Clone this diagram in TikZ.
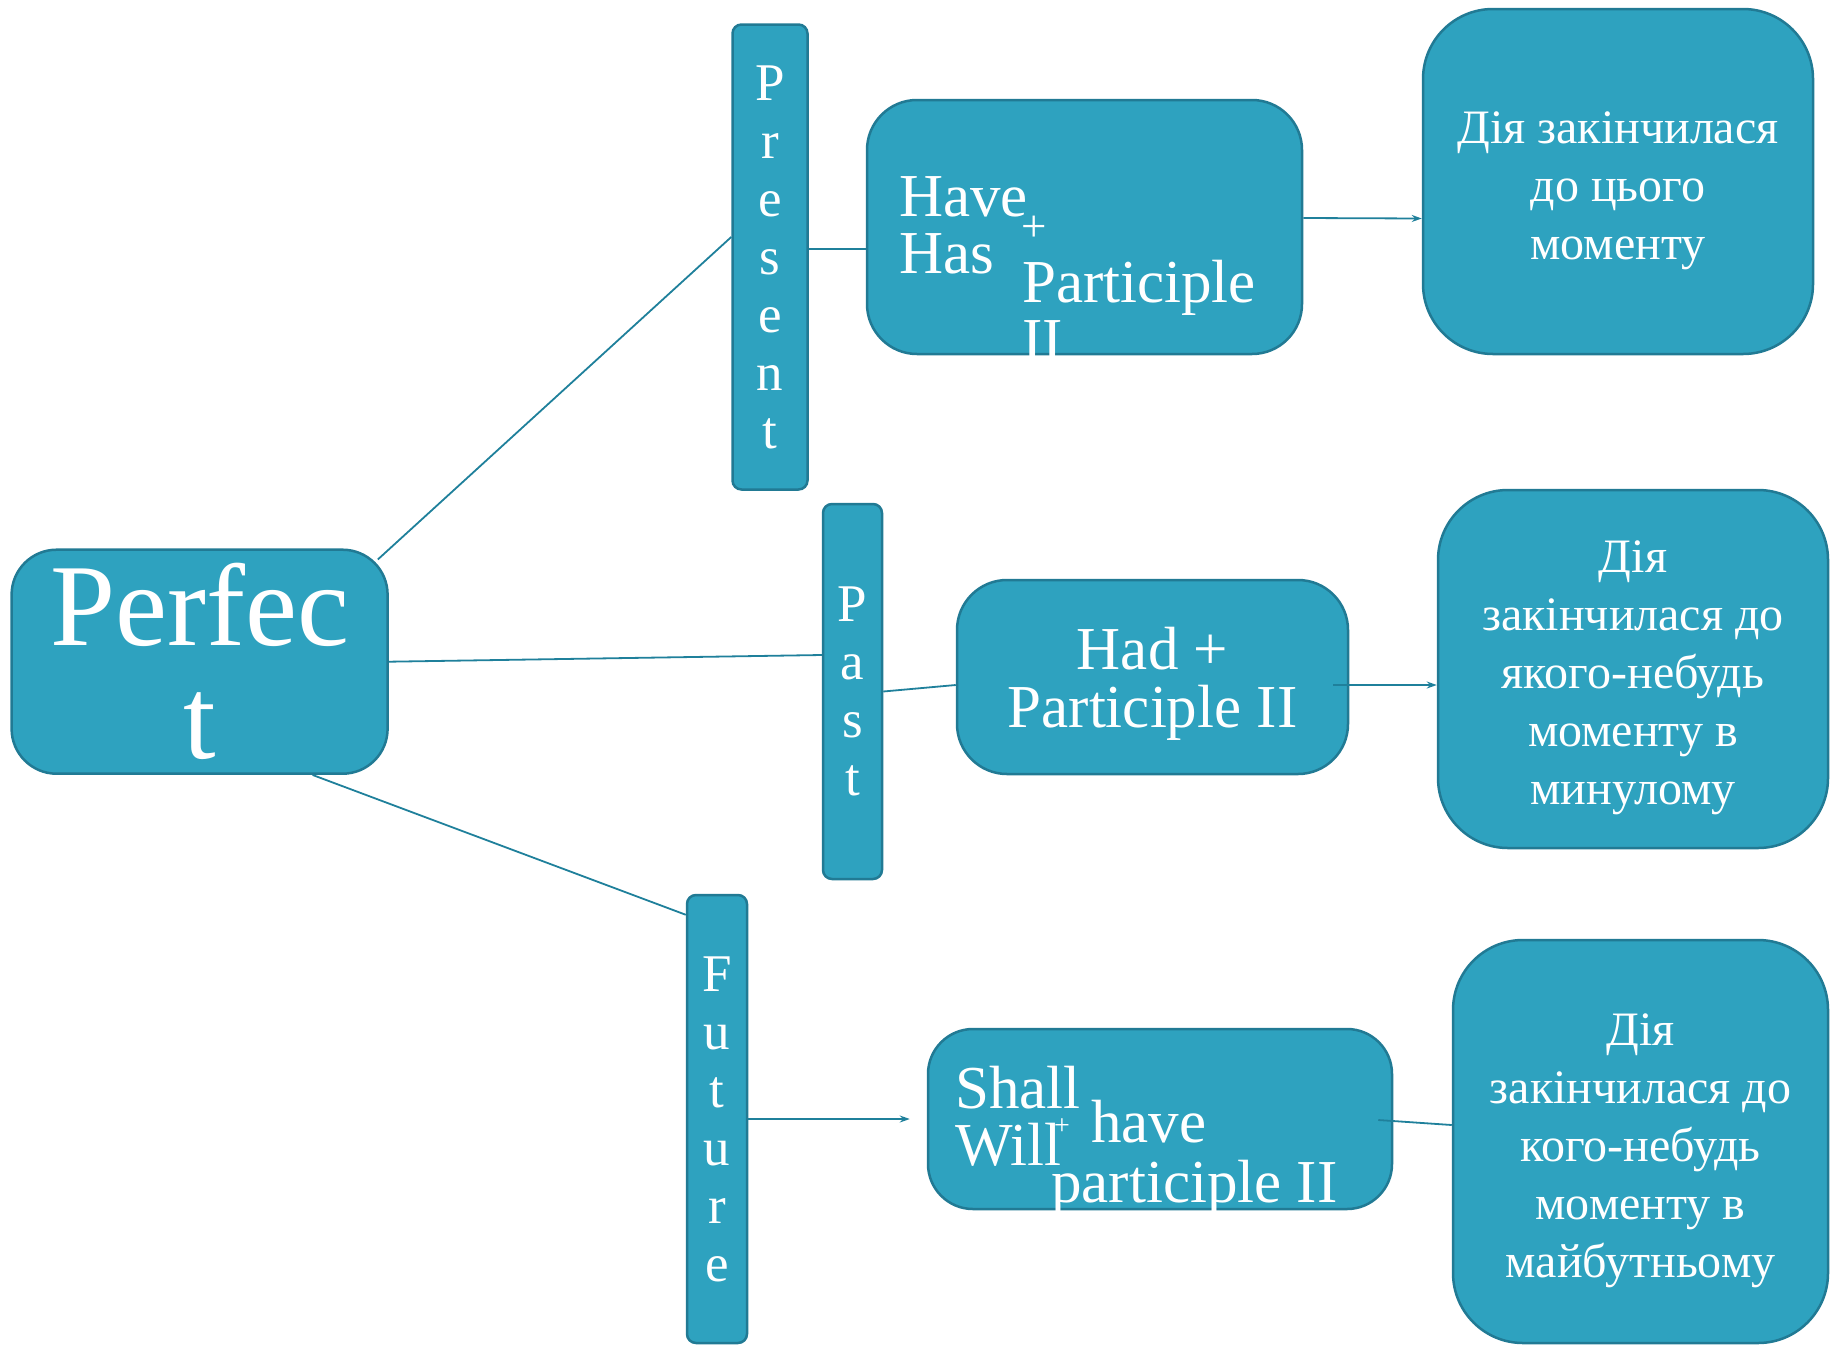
\documentclass[tikz,border=0pt]{standalone}
\usepackage{fontspec}
\setmainfont{Liberation Serif}
\usepackage{tikz}
\usetikzlibrary{positioning, calc, arrows.meta}
\definecolor{boxfill}{RGB}{46,162,191}
\definecolor{boxedge}{RGB}{33,122,148}
\definecolor{linkblue}{RGB}{31,128,155}
\newcommand{\toppad}[1]{\rule{0pt}{#1}}

\begin{document}
\begin{tikzpicture}[
    x=1pt, y=-1pt,
    box/.style={rectangle, draw=boxedge, fill=boxfill, line width=2.5pt, rounded corners=40pt, inner sep=0pt, align=center, text=white},
    tense/.style={box, rounded corners=9pt, font=\fontsize{53}{58}\selectfont},
    result/.style={box, rounded corners=70pt, font=\fontsize{48}{58}\selectfont},
    formula/.style={box, rounded corners=50pt, font=\fontsize{61}{58}\selectfont},
    word/.style={text=white, inner sep=0pt, font=\fontsize{61}{58}\selectfont},
    link/.style={draw=linkblue, line width=1.8pt},
    arrow/.style={link, -{Stealth[length=10pt, width=7pt]}}
]
    \useasboundingbox (0,0) rectangle (1830,1347);

    % Main node
    \node[box, rounded corners=45pt, minimum width=376pt, minimum height=224pt, font=\fontsize{117}{113}\selectfont] (perfect) at (199.6,661.7) {Perfec\\t};

    % Tenses
    \node[tense, minimum width=75pt, minimum height=465pt] (present) at (770,257) {P\\r\\e\\s\\e\\n\\t};
    \node[tense, minimum width=59pt, minimum height=375pt] (past) at (852.5,691.5) {P\\a\\s\\t};
    \node[tense, minimum width=60pt, minimum height=448pt] (future) at (717,1119) {F\\u\\t\\u\\r\\e};

    % Formulas
    \node[formula, minimum width=435pt, minimum height=254pt] (have) at (1084.5,227) {};
    \node[word, anchor=base west] (have-word) at (899,216) {Have};
    \node[word, anchor=base west] (has-word) at (899,273) {Has};
    \node[word, font=\fontsize{45}{45}\selectfont] (have-plus) at (1034,229) {+};
    \node[word, anchor=base west] (part-word) at (1022,302) {Participle};
    \node[word, anchor=base west] (two-word) at (1022,360) {II};

    \node[formula, minimum width=391pt, minimum height=194pt] (had) at (1152.5,677) {\toppad{56pt}Had +\\Participle II};

    \node[formula, rounded corners=45pt, minimum width=464pt, minimum height=180pt] (shall) at (1160,1119) {};
    \node[word, anchor=base west] (shall-word) at (955,1108) {Shall};
    \node[word, anchor=base west] (will-word) at (955,1165) {Will};
    \node[word, font=\fontsize{28}{28}\selectfont] (shall-plus) at (1062,1127) {+};
    \node[word, anchor=base west] (havep-word) at (1091,1142) {have};
    \node[word, anchor=base west] (partp-word) at (1051,1202) {participle II};

    % Results
    \node[result, minimum width=390pt, minimum height=345pt] (res1) at (1618,181.5) {\toppad{50pt}Дія закінчилася\\до цього\\моменту};
    \node[result, minimum width=390pt, minimum height=358pt] (res2) at (1633,669) {\toppad{50pt}Дія\\закінчилася до\\якого-небудь\\моменту в\\минулому};
    \node[result, minimum width=375pt, minimum height=403pt] (res3) at (1640.5,1141.5) {\toppad{50pt}Дія\\закінчилася до\\кого-небудь\\моменту в\\майбутньому};

    % Connectors
    \draw[link] ($(perfect.north east)+(-11,11)$) -- ($(present.west)+(0,-20)$);
    \draw[link] (perfect.east) -- ($(past.west)+(0,-36.5)$);
    \draw[link] ($(perfect.south)+(113,0)$) -- ($(future.north west)+(0,21)$);
    \draw[link] ($(present.east)+(0,-8)$) -- ($(have.west)+(0,22)$);
    \draw[arrow] ($(have.east)+(0,-9)$) -- ($(res1.west)+(0,37)$);
    \draw[link] (past.east) -- ($(had.west)+(0,8)$);
    \draw[arrow] ($(had.east)+(-16,8)$) -- ($(res2.west)+(0,16)$);
    \draw[arrow] (future.east) -- ($(shall.west)+(-17,0)$);
    \draw[link] ($(shall.east)+(-15,1)$) -- ($(res3.west)+(0,-16.5)$);
\end{tikzpicture}
\end{document}
